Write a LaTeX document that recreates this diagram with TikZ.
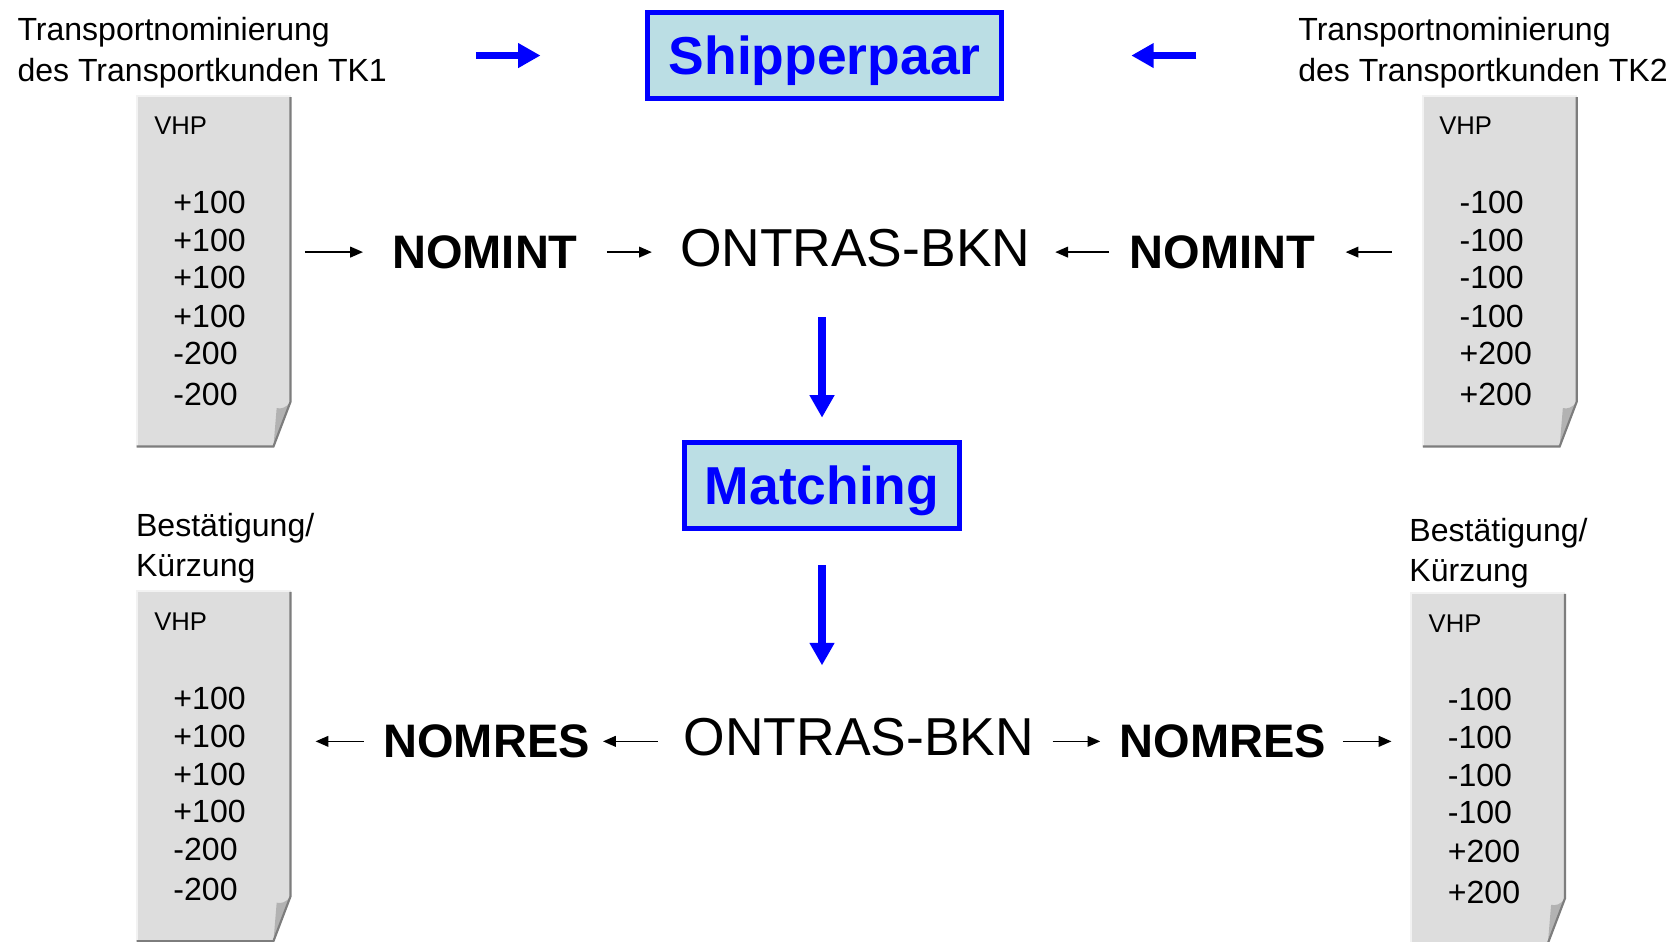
\documentclass[tikz,border=0pt]{standalone}
\usepackage{fontspec}
\setmainfont{Liberation Sans}
\usetikzlibrary{arrows.meta,calc}
\definecolor{docfill}{RGB}{221,221,221}
\definecolor{docshadow}{RGB}{125,125,125}
\definecolor{doclight}{RGB}{242,242,242}
\definecolor{foldfill}{RGB}{178,178,178}
\definecolor{boxfill}{RGB}{187,222,228}
\definecolor{myblue}{RGB}{0,0,255}
\tikzset{
  lbl/.style={font=\fontsize{15}{18}\selectfont, inner sep=0pt, anchor=base west},
  num/.style={font=\fontsize{15}{18}\selectfont, inner sep=0pt, anchor=west},
  vhp/.style={font=\fontsize{12}{14}\selectfont, inner sep=0pt, anchor=west},
  kw/.style={font=\fontsize{22}{26}\selectfont\bfseries, inner sep=0pt},
  bkn/.style={font=\fontsize{25}{30}\selectfont, inner sep=0pt},
  bluebox/.style={draw=myblue, line width=2.4pt, fill=boxfill, text=myblue,
     font=\fontsize{25}{30}\selectfont\bfseries, inner sep=0pt, text depth=0pt},
  docbox/.style={draw=none, inner sep=0pt, minimum width=72pt, minimum height=164pt},
  docedge/.style={draw=docshadow, line width=1pt},
  doclt/.style={draw=doclight, line width=0.8pt},
  blk/.style={draw=black, line width=0.8pt, -{Triangle[length=6pt,width=5pt]}},
  blu/.style={draw=myblue, line width=3.4pt, -{Triangle[length=10.5pt,width=11pt]}}
}
\newcommand\docpage[3]{%
  \begin{scope}[shift={(#2,#3)}]
    \fill[docfill] (0,0) -- (144,0) -- (144,286) -- (128,328) -- (0,328) -- cycle;
    \fill[foldfill] (144,286) .. controls (140,292) and (135,293) .. (131,292) -- (128,328) -- cycle;
    \draw[doclt] (0,328) -- (0,0) -- (144,0);
    \draw[docedge] (144,1) -- (144,286) -- (128,328) -- (0,328);
    \node[docbox] (#1) at (72,164) {};
  \end{scope}}
\begin{document}
\begin{tikzpicture}[x=0.5pt,y=-0.5pt]
\useasboundingbox (0,0) rectangle (1568,881);
\fill[white] (0,0) rectangle (1568,881);

% top labels
\node[lbl] (l1a) at (16,38) {Transportnominierung};
\node[lbl] (l1b) at (16,76) {des Transportkunden TK1};
\node[lbl] (r1a) at (1215,38) {Transportnominierung};
\node[lbl] (r1b) at (1215,76) {des Transportkunden TK2};

% shipperpaar
\node[bluebox, minimum width=165.6pt, minimum height=40.6pt] (ship) at (772,52) {Shipperpaar};

% documents
\docpage{d1}{128}{90}
\docpage{d2}{1332}{90}
\docpage{d3}{128}{553}
\docpage{d4}{1321}{555}

% document contents
\node[vhp] (v1) at (144,118) {VHP};
\node[vhp] (v2) at (1347,118) {VHP};
\node[vhp] (v3) at (144,582) {VHP};
\node[vhp] (v4) at (1337,584) {VHP};

\foreach \t/\y [count=\i] in {+100/190,+100/225,+100/260,+100/296,-200/331,-200/369}
  \node[num] (da\i) at (162,\y) {\t};
\foreach \t/\y [count=\i] in {-100/190,-100/225,-100/260,-100/296,+200/331,+200/369}
  \node[num] (db\i) at (1366,\y) {\t};
\foreach \t/\y [count=\i] in {+100/654,+100/689,+100/725,+100/760,-200/795,-200/833}
  \node[num] (dc\i) at (162,\y) {\t};
\foreach \t/\y [count=\i] in {-100/655,-100/690,-100/726,-100/761,+200/797,+200/835}
  \node[num] (dd\i) at (1355,\y) {\t};

% bottom labels
\node[lbl] (l3a) at (127,502) {Bestätigung/};
\node[lbl] (l3b) at (127,540) {Kürzung};
\node[lbl] (l4a) at (1319,507) {Bestätigung/};
\node[lbl] (l4b) at (1319,544) {Kürzung};

% row 1
\node[kw] (n1) at (454,236) {NOMINT};
\node[bkn] (b1) at (800.5,232) {ONTRAS-BKN};
\node[kw] (n2) at (1144.5,236) {NOMINT};

% matching
\node[bluebox, minimum width=129.1pt, minimum height=40.1pt] (mat) at (769.5,454.5) {Matching};

% row 2
\node[kw] (m1) at (455.5,694) {NOMRES};
\node[bkn] (b2) at (804,690) {ONTRAS-BKN};
\node[kw] (m2) at (1145,694) {NOMRES};

% blue arrows
\draw[blu, shorten <=41.5pt, shorten >=49pt] (ship.west -| l1b.east) -- (ship.west);
\draw[blu, shorten <=47.5pt, shorten >=59.5pt] (ship.east -| r1a.west) -- (ship.east);
\draw[blu, shorten <=23.5pt, shorten >=10.5pt] (mat.north |- b1.south) -- (mat.north);
\draw[blu, shorten <=16pt, shorten >=24.5pt] (mat.south) -- (mat.south |- b2.north);

% black arrows row 1
\draw[blk, shorten <=6.5pt, shorten >=13.5pt] (d1.east |- n1.west) -- (n1.west);
\draw[blk, shorten <=13.5pt, shorten >=13pt] (n1.east) -- (n1.east -| b1.west);
\draw[blk, shorten <=9.5pt, shorten >=11.5pt] (n2.west) -- (n2.west -| b1.east);
\draw[blk, shorten <=14.5pt, shorten >=14pt] (d2.west |- n2.east) -- (n2.east);

% black arrows row 2
\draw[blk, shorten <=12pt, shorten >=6pt] (m1.east -| b2.west) -- (m1.east);
\draw[blk, shorten <=9pt, shorten >=11.5pt] (m1.west) -- (m1.west -| d3.east);
\draw[blk, shorten <=8.5pt, shorten >=9pt] (m2.west -| b2.east) -- (m2.west);
\draw[blk, shorten <=7.5pt, shorten >=9pt] (m2.east) -- (m2.east -| d4.west);
\end{tikzpicture}
\end{document}
